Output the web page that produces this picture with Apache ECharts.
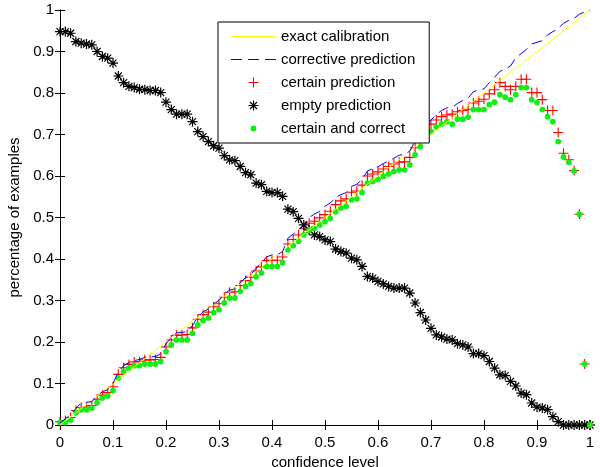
<!DOCTYPE html>
<html><head><meta charset="utf-8">
<script src="https://cdn.jsdelivr.net/npm/echarts@6/dist/echarts.min.js"></script>
<style>html,body{margin:0;padding:0;background:#fff}#c{width:600px;height:467px}</style>
</head><body><div id="c"></div>
<script>
const confidence = [0,0.01,0.02,0.03,0.04,0.05,0.06,0.07,0.08,0.09,0.1,0.11,0.12,0.13,0.14,0.15,0.16,0.17,0.18,0.19,0.2,0.21,0.22,0.23,0.24,0.25,0.26,0.27,0.28,0.29,0.3,0.31,0.32,0.33,0.34,0.35,0.36,0.37,0.38,0.39,0.4,0.41,0.42,0.43,0.44,0.45,0.46,0.47,0.48,0.49,0.5,0.51,0.52,0.53,0.54,0.55,0.56,0.57,0.58,0.59,0.6,0.61,0.62,0.63,0.64,0.65,0.66,0.67,0.68,0.69,0.7,0.71,0.72,0.73,0.74,0.75,0.76,0.77,0.78,0.79,0.8,0.81,0.82,0.83,0.84,0.85,0.86,0.87,0.88,0.89,0.9,0.91,0.92,0.93,0.94,0.95,0.96,0.97,0.98,0.99,1];
const exactX = [0, 1];
const exactY = [0, 1];
const corrective = [0.005,0.015,0.025,0.04,0.053,0.055,0.056,0.07,0.08,0.085,0.1,0.128,0.143,0.15,0.155,0.158,0.163,0.164,0.165,0.172,0.195,0.212,0.222,0.223,0.225,0.24,0.26,0.272,0.28,0.292,0.3,0.315,0.325,0.328,0.343,0.355,0.362,0.378,0.39,0.405,0.41,0.41,0.418,0.45,0.46,0.47,0.483,0.5,0.508,0.515,0.527,0.535,0.548,0.555,0.56,0.575,0.58,0.592,0.612,0.618,0.622,0.63,0.636,0.643,0.65,0.652,0.66,0.685,0.702,0.72,0.735,0.748,0.758,0.764,0.765,0.775,0.782,0.788,0.803,0.807,0.81,0.825,0.838,0.852,0.858,0.865,0.885,0.895,0.905,0.918,0.922,0.926,0.94,0.948,0.955,0.968,0.975,0.98,0.99,0.995,1.0];
const certain = [0.008,0.01,0.018,0.035,0.042,0.043,0.047,0.062,0.072,0.078,0.092,0.122,0.138,0.146,0.152,0.153,0.157,0.157,0.158,0.163,0.188,0.205,0.216,0.217,0.218,0.234,0.255,0.266,0.272,0.285,0.292,0.308,0.32,0.321,0.336,0.348,0.356,0.371,0.381,0.396,0.397,0.397,0.405,0.436,0.447,0.458,0.473,0.486,0.491,0.499,0.507,0.515,0.531,0.54,0.545,0.561,0.564,0.578,0.6,0.605,0.61,0.617,0.623,0.629,0.633,0.634,0.645,0.668,0.688,0.708,0.725,0.735,0.743,0.747,0.749,0.755,0.758,0.761,0.776,0.78,0.785,0.798,0.808,0.825,0.816,0.808,0.816,0.833,0.833,0.801,0.801,0.784,0.758,0.758,0.705,0.655,0.639,0.613,0.508,0.147,0.0];
const empty = [0.948,0.948,0.944,0.924,0.92,0.918,0.916,0.9,0.888,0.884,0.872,0.841,0.825,0.816,0.813,0.809,0.808,0.806,0.806,0.801,0.778,0.76,0.749,0.749,0.749,0.731,0.707,0.695,0.683,0.673,0.667,0.649,0.639,0.637,0.623,0.608,0.603,0.583,0.579,0.563,0.56,0.56,0.551,0.52,0.514,0.498,0.482,0.47,0.458,0.454,0.446,0.442,0.424,0.418,0.414,0.402,0.398,0.382,0.358,0.354,0.346,0.34,0.334,0.33,0.33,0.33,0.318,0.294,0.271,0.253,0.233,0.217,0.212,0.207,0.205,0.196,0.193,0.188,0.172,0.172,0.167,0.153,0.137,0.121,0.119,0.105,0.094,0.077,0.073,0.053,0.043,0.041,0.037,0.02,0.008,0,0,0,0,0,0];
const certainCorrect = [0.006,0.006,0.012,0.03,0.037,0.037,0.041,0.054,0.065,0.07,0.083,0.113,0.129,0.137,0.143,0.143,0.147,0.147,0.147,0.153,0.177,0.193,0.205,0.205,0.205,0.221,0.241,0.252,0.258,0.271,0.278,0.294,0.306,0.306,0.322,0.334,0.341,0.357,0.366,0.382,0.382,0.382,0.391,0.422,0.432,0.443,0.458,0.47,0.474,0.482,0.49,0.498,0.514,0.523,0.527,0.543,0.545,0.56,0.583,0.587,0.592,0.599,0.605,0.611,0.615,0.615,0.627,0.651,0.671,0.69,0.707,0.718,0.725,0.731,0.725,0.737,0.737,0.742,0.76,0.76,0.76,0.772,0.778,0.796,0.79,0.784,0.796,0.813,0.813,0.784,0.777,0.76,0.743,0.731,0.683,0.646,0.633,0.612,0.508,0.147,0.0];
const tickLabels = ['0','0.1','0.2','0.3','0.4','0.5','0.6','0.7','0.8','0.9','1'];
const seriesNames = ['exact calibration','corrective prediction','certain prediction','empty prediction','certain and correct'];

const FONT = "'Liberation Sans', Arial, Helvetica, sans-serif";
const pairs = (xs, ys) => xs.map((x, i) => [x, ys[i]]);
const PLUS = 'path://M-0.55,-5H0.55V-0.55H5V0.55H0.55V5H-0.55V0.55H-5V-0.55H-0.55Z';
const STAR = 'path://M-0.6,-5L0.6,-5L0.6,5L-0.6,5Z M-5,-0.6L5,-0.6L5,0.6L-5,0.6Z M-3.08,-3.92L3.92,3.08L3.08,3.92L-3.92,-3.08Z M3.08,-3.92L3.92,-3.08L-3.08,3.92L-3.92,3.08Z';
const DOT = 'path://M-5,-5M5,5M2.9,0A2.9,2.9,0,1,1,-2.9,0A2.9,2.9,0,1,1,2.9,0Z';
const SOLID_ICON = 'path://M0,0H45V1H0Z';
const DASH_ICON = 'path://M0,0H11V1H0Z M17,0H28V1H17Z M34,0H45V1H34Z';
const fmt = v => tickLabels[Math.round(v * 10)];

const baseAxis = {
  type: 'value', min: 0, max: 1, interval: 0.1,
  axisLine: { show: true, lineStyle: { color: '#000', width: 1 } },
  axisTick: { show: true, inside: true, length: 5, lineStyle: { color: '#000' } },
  splitLine: { show: false }
};

const chart = echarts.init(document.getElementById('c'), null, { renderer: 'canvas' });
chart.setOption({
  animation: false,
  backgroundColor: '#fff',
  textStyle: { fontFamily: FONT },
  grid: { left: 60, right: 10, top: 10, bottom: 42, containLabel: false, outerBoundsMode: 'none' },
  xAxis: [
    Object.assign({}, baseAxis, {
      position: 'bottom',
      axisLabel: { show: true, margin: 10, fontSize: 15, color: '#000', fontFamily: FONT, formatter: fmt },
      name: 'confidence level', nameLocation: 'middle', nameGap: 28,
      nameTextStyle: { fontSize: 15, color: '#000', fontFamily: FONT }
    }),
    Object.assign({}, baseAxis, { position: 'top', axisLabel: { show: false } })
  ],
  yAxis: [
    Object.assign({}, baseAxis, {
      position: 'left',
      axisLabel: { show: true, margin: 6, fontSize: 15, color: '#000', fontFamily: FONT, formatter: fmt },
      name: 'percentage of examples', nameLocation: 'middle', nameGap: 34, nameRotate: 90,
      nameTextStyle: { fontSize: 15, color: '#000', fontFamily: FONT }
    }),
    Object.assign({}, baseAxis, { position: 'right', axisLabel: { show: false } })
  ],
  legend: {
    orient: 'vertical', left: 218, top: 22,
    padding: [7, 14, 7, 13],
    borderColor: '#000', borderWidth: 1, backgroundColor: '#fff',
    itemWidth: 45, itemHeight: 10, itemGap: 8,
    textStyle: { fontSize: 15, color: '#000', fontFamily: FONT },
    data: [
      { name: seriesNames[0], icon: SOLID_ICON, itemStyle: { color: '#ffff00' } },
      { name: seriesNames[1], icon: DASH_ICON, itemStyle: { color: '#0000ff' } },
      { name: seriesNames[2] },
      { name: seriesNames[3] },
      { name: seriesNames[4] }
    ]
  },
  series: [
    { name: seriesNames[0], type: 'line', data: pairs(exactX, exactY), symbol: 'none',
      lineStyle: { color: '#ffff00', width: 1 }, itemStyle: { color: '#ffff00' } },
    { name: seriesNames[1], type: 'line', data: pairs(confidence, corrective), symbol: 'none',
      lineStyle: { color: '#0000ff', width: 1, type: [11, 6] }, itemStyle: { color: '#0000ff' } },
    { name: seriesNames[2], type: 'scatter', data: pairs(confidence, certain), symbol: PLUS, symbolSize: 10,
      itemStyle: { color: '#ff0000', opacity: 1 } },
    { name: seriesNames[3], type: 'scatter', data: pairs(confidence, empty), symbol: STAR, symbolSize: 10,
      itemStyle: { color: '#000000', opacity: 1 } },
    { name: seriesNames[4], type: 'scatter', data: pairs(confidence, certainCorrect), symbol: DOT, symbolSize: 10,
      itemStyle: { color: '#11ee11', opacity: 1 } }
  ]
});
</script>
</body></html>
